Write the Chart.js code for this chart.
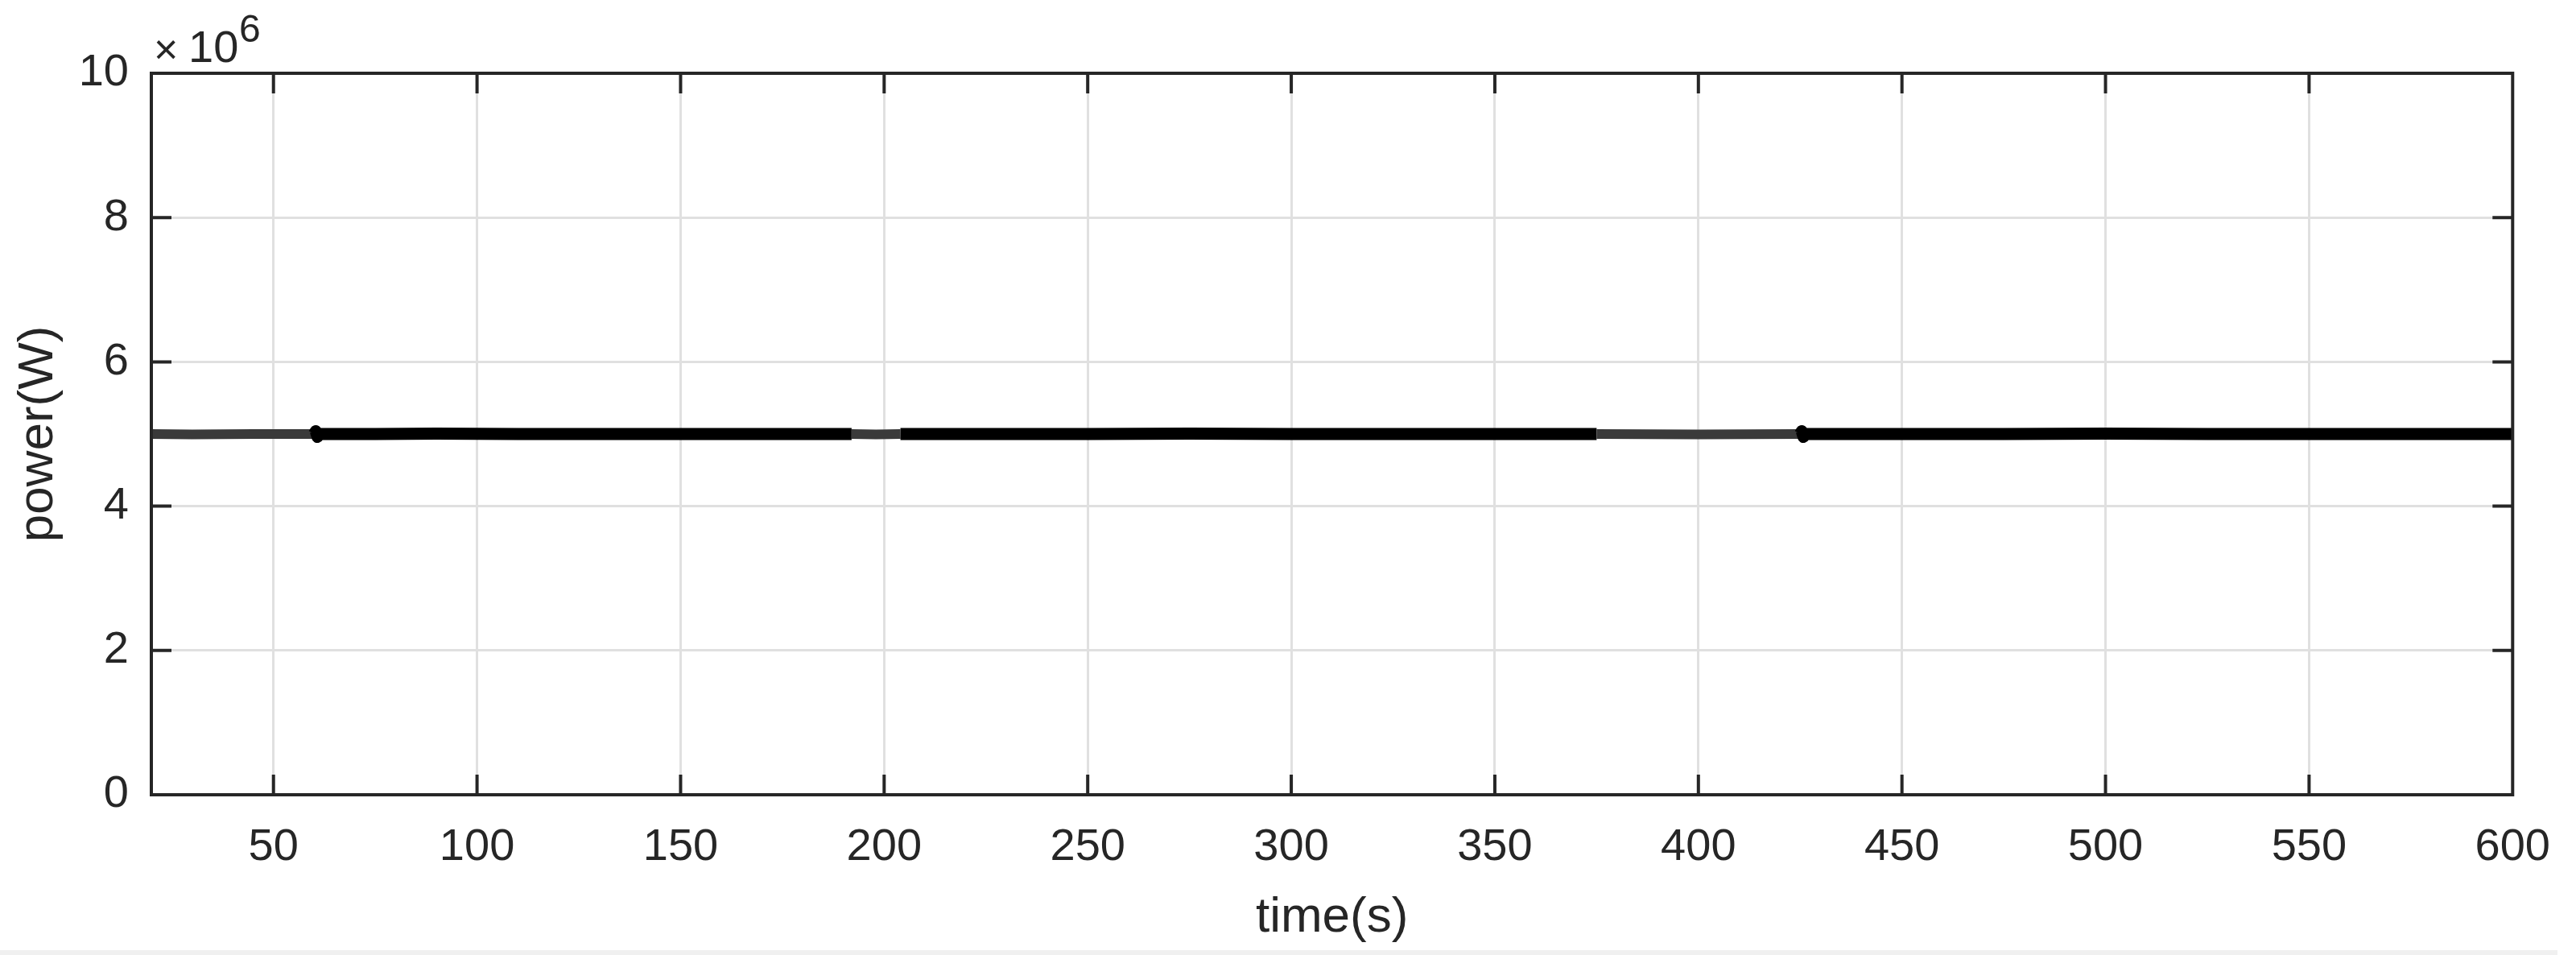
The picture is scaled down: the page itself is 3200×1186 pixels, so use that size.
<!DOCTYPE html>
<html>
<head>
<meta charset="utf-8">
<title>power(W)</title>
<script src="https://cdn.jsdelivr.net/npm/chart.js@4.4.1/dist/chart.umd.min.js"></script>
<style>
body { margin: 0; background: #fff; }
#wrap { position: relative; width: 3200px; height: 1186px; }
#strip { position: absolute; left: 0; top: 1180px; width: 3177px; height: 6px; background: #f0f0f0; }
</style>
</head>
<body>
<div id="wrap"><canvas id="chart"></canvas><div id="strip"></div></div>
<script>
"use strict";

var TIME = [20, 30, 45, 60, 60.4, 60.8, 61.2, 75, 90, 110, 130, 150, 170, 192, 198, 204,
    225, 250, 275, 300, 325, 350, 375, 400, 425, 425.4, 425.8, 426.2, 450, 475, 500, 525, 550, 575, 600];
var POWER = [5.00e6, 4.995e6, 5.00e6, 5.00e6, 5.04e6, 4.96e6, 5.00e6, 5.00e6, 5.005e6, 5.00e6,
    5.00e6, 5.00e6, 5.00e6, 5.00e6, 4.995e6, 5.00e6, 5.00e6, 5.00e6, 5.005e6, 5.00e6,
    5.00e6, 5.00e6, 5.00e6, 4.995e6, 5.00e6, 5.04e6, 4.96e6, 5.00e6, 5.00e6, 5.00e6,
    5.005e6, 5.00e6, 5.00e6, 5.00e6, 5.00e6];

// stretches where the ripple is thinner and greyer
var QUIET_SPANS = [[20, 60.2], [192, 204], [375, 425]];

var X_TICKS = [50, 100, 150, 200, 250, 300, 350, 400, 450, 500, 550, 600];
var Y_TICKS = [0, 2e6, 4e6, 6e6, 8e6, 10e6];
var Y_TICK_LABELS = ['0', '2', '4', '6', '8', '10'];

var INK = '#262626';
var GRID = '#e0e0e0';
var FONT = "'Liberation Sans', Arial, Helvetica, sans-serif";

function isQuiet(ctx) {
    var mid = (ctx.p0.parsed.x + ctx.p1.parsed.x) / 2;
    return QUIET_SPANS.some(function(s) {
        return mid > s[0] && mid < s[1];
    });
}

var boxPlugin = {
    id: 'matlabBox',
    afterDraw: function(chart) {
        var ctx = chart.ctx;
        var a = chart.chartArea;
        var xs = chart.scales.x;
        var ys = chart.scales.y;
        var len = 25;
        ctx.save();
        ctx.strokeStyle = INK;
        ctx.lineWidth = 4;
        ctx.beginPath();
        xs.ticks.forEach(function(t) {
            var px = xs.getPixelForValue(t.value);
            if (px <= a.left + 2 || px >= a.right - 2) {
                return;
            }
            ctx.moveTo(px, a.bottom);
            ctx.lineTo(px, a.bottom - len);
            ctx.moveTo(px, a.top);
            ctx.lineTo(px, a.top + len);
        });
        ys.ticks.forEach(function(t) {
            var py = ys.getPixelForValue(t.value);
            if (py <= a.top + 2 || py >= a.bottom - 2) {
                return;
            }
            ctx.moveTo(a.left, py);
            ctx.lineTo(a.left + len, py);
            ctx.moveTo(a.right, py);
            ctx.lineTo(a.right - len, py);
        });
        ctx.stroke();
        ctx.strokeRect(a.left, a.top, a.right - a.left, a.bottom - a.top);

        // exponent above the y axis
        ctx.fillStyle = INK;
        ctx.textBaseline = 'alphabetic';
        ctx.textAlign = 'left';
        ctx.font = '52px ' + FONT;
        ctx.fillText('\u00d7', a.left + 3, a.top - 12);
        ctx.font = '56px ' + FONT;
        ctx.fillText('10', a.left + 46, a.top - 14);
        ctx.font = '48px ' + FONT;
        ctx.fillText('6', a.left + 109, a.top - 39);
        ctx.restore();
    }
};

var chart = new Chart(document.getElementById('chart'), {
    type: 'line',
    data: {
        datasets: [{
            label: 'power',
            data: TIME.map(function(t, i) {
                return {x: t, y: POWER[i]};
            }),
            borderColor: '#000',
            borderWidth: 15,
            borderJoinStyle: 'round',
            pointRadius: 0,
            tension: 0,
            segment: {
                borderColor: function(ctx) {
                    return isQuiet(ctx) ? '#3a3a3a' : '#000';
                },
                borderWidth: function(ctx) {
                    return isQuiet(ctx) ? 12 : 15;
                }
            }
        }]
    },
    options: {
        responsive: true,
        maintainAspectRatio: false,
        animation: false,
        devicePixelRatio: 1,
        layout: {
            padding: {left: 0, right: 77, top: 91, bottom: 0}
        },
        plugins: {
            legend: {display: false},
            tooltip: {enabled: false}
        },
        scales: {
            x: {
                type: 'linear',
                min: 20,
                max: 600,
                afterBuildTicks: function(scale) {
                    scale.ticks = X_TICKS.map(function(v) {
                        return {value: v};
                    });
                },
                afterFit: function(scale) {
                    scale.height = 199;
                },
                grid: {color: GRID, lineWidth: 3, drawTicks: false},
                border: {display: false},
                ticks: {
                    color: INK,
                    padding: 32,
                    maxRotation: 0,
                    autoSkip: false,
                    font: {family: FONT, size: 56}
                },
                title: {
                    display: true,
                    text: 'time(s)',
                    color: INK,
                    font: {family: FONT, size: 62},
                    padding: {top: 0, bottom: 9}
                }
            },
            y: {
                min: 0,
                max: 10e6,
                afterBuildTicks: function(scale) {
                    scale.ticks = Y_TICKS.map(function(v) {
                        return {value: v};
                    });
                },
                afterFit: function(scale) {
                    scale.width = 188;
                },
                grid: {color: GRID, lineWidth: 3, drawTicks: false},
                border: {display: false},
                ticks: {
                    color: INK,
                    padding: 28,
                    autoSkip: false,
                    font: {family: FONT, size: 56},
                    callback: function(value) {
                        return Y_TICK_LABELS[Y_TICKS.indexOf(value)];
                    }
                },
                title: {
                    display: true,
                    text: 'power(W)',
                    color: INK,
                    font: {family: FONT, size: 62},
                    padding: {top: 11, bottom: 0}
                }
            }
        }
    },
    plugins: [boxPlugin]
});
</script>
</body>
</html>
